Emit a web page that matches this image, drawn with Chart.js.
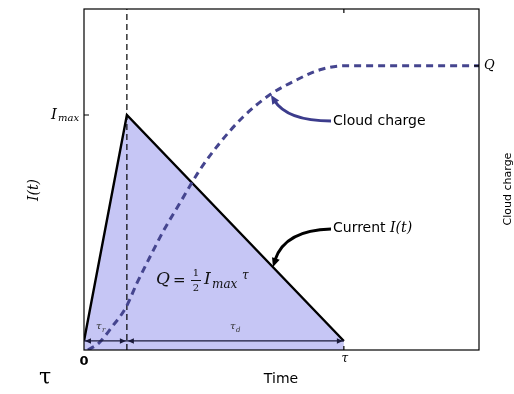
<!DOCTYPE html>
<html>
<head>
<meta charset="utf-8">
<script src="https://cdn.jsdelivr.net/npm/chart.js@4/dist/chart.umd.min.js"></script>
<style>
  html, body { margin: 0; padding: 0; background: #fff; }
  #wrap { position: relative; width: 514px; height: 394px; }
</style>
</head>
<body>
<div id="wrap"><canvas id="chart" width="514" height="394"></canvas></div>
<script>
// Time is in units of tau (total duration), current in units of Imax, charge in units of Q
const riseTime = 0.165;
const currentTime = [0, riseTime, 1];
const currentValue = [0, 1, 0];

const chargeTime = [0.015, 0.058, 0.104, 0.162, 0.204, 0.258, 0.308, 0.365, 0.446, 0.523, 0.612, 0.715, 0.819, 0.908, 1.0, 1.52];
const chargeValue = [0, 0.025, 0.077, 0.151, 0.236, 0.335, 0.423, 0.511, 0.634, 0.729, 0.82, 0.898, 0.951, 0.986, 1.0, 1.0];

const xTickValues = [0, 1];
const xTickLabels = ['0', 'τ'];

const xRange = [0, 1.52];
const yRange = [-0.04, 1.469];
const y2Range = [0, 1.2];

const toPoints = (xs, ys) => xs.map((x, i) => ({ x: x, y: ys[i] }));

function arrowHead(ctx, x, y, angle, size) {
    ctx.save();
    ctx.translate(x, y);
    ctx.rotate(angle);
    ctx.beginPath();
    ctx.moveTo(0, 0);
    ctx.lineTo(-size, -size * 0.45);
    ctx.lineTo(-size, size * 0.45);
    ctx.closePath();
    ctx.fill();
    ctx.restore();
}

// Frame, ticks, labels and annotations
const decorations = {
    id: 'decorations',
    afterDraw(chart) {
        const ctx = chart.ctx;
        const a = chart.chartArea;
        const xs = chart.scales.x, ys = chart.scales.y, y2 = chart.scales.y2;
        ctx.save();

        // frame
        ctx.strokeStyle = '#000';
        ctx.lineWidth = 1.2;
        ctx.strokeRect(a.left, a.top, a.right - a.left, a.bottom - a.top);

        // ticks
        const tauX = xs.getPixelForValue(1);
        const imaxY = ys.getPixelForValue(1);
        const qY = y2.getPixelForValue(1);
        ctx.beginPath();
        ctx.moveTo(tauX, a.top); ctx.lineTo(tauX, a.top + 4);
        ctx.moveTo(tauX, a.bottom); ctx.lineTo(tauX, a.bottom - 4);
        ctx.moveTo(a.left, imaxY); ctx.lineTo(a.left + 5, imaxY);
        ctx.moveTo(a.right, qY); ctx.lineTo(a.right - 5, qY);
        ctx.stroke();

        // x tick labels
        ctx.fillStyle = '#000';
        ctx.textAlign = 'center';
        ctx.textBaseline = 'middle';
        xTickValues.forEach((v, i) => {
            const px = xs.getPixelForValue(v);
            if (xTickLabels[i] === 'τ') {
                ctx.font = 'italic 12px "DejaVu Serif"';
                ctx.fillText(xTickLabels[i], px + 1, a.bottom + 9);
            } else {
                ctx.font = 'bold 13px "DejaVu Sans"';
                ctx.fillText(xTickLabels[i], px, a.bottom + 12);
            }
        });

        // Imax tick label
        ctx.textAlign = 'left';
        ctx.font = 'italic 15px "DejaVu Serif"';
        ctx.fillText('I', 51, imaxY);
        ctx.font = 'italic 10px "DejaVu Serif"';
        ctx.fillText('max', 58, imaxY + 3);

        // Q tick label
        ctx.font = 'italic 13px "DejaVu Serif"';
        ctx.fillText('Q', a.right + 5, qY);

        // axis titles
        ctx.textAlign = 'center';
        ctx.font = '14px "DejaVu Sans"';
        ctx.fillText('Time', 281, 379);

        ctx.save();
        ctx.translate(34, 190);
        ctx.rotate(-Math.PI / 2);
        ctx.font = 'italic 14px "DejaVu Serif"';
        ctx.fillText('I(t)', 0, 0);
        ctx.restore();

        ctx.save();
        ctx.translate(508, 189);
        ctx.rotate(-Math.PI / 2);
        ctx.font = '11px "DejaVu Sans"';
        ctx.fillText('Cloud charge', 0, 0);
        ctx.restore();

        // stray tau below the plot
        ctx.font = '22px "DejaVu Serif"';
        ctx.fillText('τ', 45, 378);

        // rise / decay double arrows along y = 0
        const baseY = ys.getPixelForValue(0);
        const peakX = xs.getPixelForValue(riseTime);
        const x0 = xs.getPixelForValue(0);
        ctx.strokeStyle = '#1a1a3a';
        ctx.fillStyle = '#1a1a3a';
        ctx.lineWidth = 1.2;
        ctx.beginPath();
        ctx.moveTo(x0, baseY); ctx.lineTo(tauX, baseY);
        ctx.stroke();
        arrowHead(ctx, x0 + 1, baseY, Math.PI, 6);
        arrowHead(ctx, peakX - 1, baseY, 0, 6);
        arrowHead(ctx, peakX + 1, baseY, Math.PI, 6);
        arrowHead(ctx, tauX - 1, baseY, 0, 6);

        ctx.fillStyle = '#333';
        ctx.textAlign = 'left';
        ctx.font = 'italic 10px "DejaVu Serif"';
        ctx.fillText('τ', 96, 326);
        ctx.font = 'italic 7px "DejaVu Serif"';
        ctx.fillText('r', 102, 330);
        ctx.font = 'italic 10px "DejaVu Serif"';
        ctx.fillText('τ', 230, 326);
        ctx.font = 'italic 7px "DejaVu Serif"';
        ctx.fillText('d', 236, 330);

        // Q = 1/2 Imax tau
        ctx.fillStyle = '#111';
        ctx.font = 'italic 17px "DejaVu Serif"';
        ctx.fillText('Q', 156, 280);
        ctx.font = '15px "DejaVu Serif"';
        ctx.fillText('=', 173, 281);
        ctx.font = '10px "DejaVu Serif"';
        ctx.textAlign = 'center';
        ctx.fillText('1', 196, 273);
        ctx.fillText('2', 196, 288);
        ctx.fillRect(191, 280, 10, 1);
        ctx.textAlign = 'left';
        ctx.font = 'italic 17px "DejaVu Serif"';
        ctx.fillText('I', 204, 280);
        ctx.font = 'italic 12px "DejaVu Serif"';
        ctx.fillText('max', 212, 285);
        ctx.font = 'italic 12px "DejaVu Serif"';
        ctx.fillText('τ', 242, 276);

        // annotation: Cloud charge
        ctx.fillStyle = '#000';
        ctx.font = '14px "DejaVu Sans"';
        ctx.fillText('Cloud charge', 333, 121);
        ctx.strokeStyle = '#3c3c8c';
        ctx.fillStyle = '#3c3c8c';
        ctx.lineWidth = 3;
        ctx.beginPath();
        ctx.moveTo(331, 121);
        ctx.quadraticCurveTo(287, 121, 274, 100);
        ctx.stroke();
        arrowHead(ctx, 271, 95, Math.atan2(-21, -13), 9);

        // annotation: Current I(t)
        ctx.fillStyle = '#000';
        ctx.font = '14px "DejaVu Sans"';
        ctx.fillText('Current ', 333, 228);
        const w = ctx.measureText('Current ').width;
        ctx.font = 'italic 14px "DejaVu Serif"';
        ctx.fillText('I(t)', 333 + w, 228);
        ctx.strokeStyle = '#000';
        ctx.lineWidth = 3;
        ctx.beginPath();
        ctx.moveTo(331, 229);
        ctx.quadraticCurveTo(285, 230, 275, 260);
        ctx.stroke();
        arrowHead(ctx, 273, 267, Math.atan2(30, -10), 9);

        ctx.restore();
    }
};

new Chart(document.getElementById('chart').getContext('2d'), {
    type: 'scatter',
    data: {
        datasets: [
            {
                label: 'Current',
                data: toPoints(currentTime, currentValue),
                showLine: true,
                borderColor: '#000',
                borderWidth: 2.4,
                backgroundColor: 'rgb(198, 198, 245)',
                fill: 'start',
                pointRadius: 0,
                yAxisID: 'y',
                order: 3
            },
            {
                label: 'Cloud charge',
                data: toPoints(chargeTime, chargeValue),
                showLine: true,
                borderColor: '#45458f',
                borderWidth: 3,
                borderDash: [7, 5],
                cubicInterpolationMode: 'monotone',
                fill: false,
                pointRadius: 0,
                yAxisID: 'y2',
                order: 1
            },
            {
                label: 'Rise',
                data: toPoints([riseTime, riseTime], yRange),
                showLine: true,
                borderColor: '#000',
                borderWidth: 1.2,
                borderDash: [6, 4],
                fill: false,
                pointRadius: 0,
                yAxisID: 'y',
                order: 2
            }
        ]
    },
    options: {
        responsive: false,
        animation: false,
        devicePixelRatio: 1,
        layout: { padding: { left: 84, top: 9, right: 35, bottom: 44 } },
        plugins: { legend: { display: false }, tooltip: { enabled: false } },
        scales: {
            x: { type: 'linear', min: xRange[0], max: xRange[1], display: false },
            y: { type: 'linear', min: yRange[0], max: yRange[1], display: false },
            y2: { type: 'linear', position: 'right', min: y2Range[0], max: y2Range[1], display: false }
        }
    },
    plugins: [decorations]
});
</script>
</body>
</html>
